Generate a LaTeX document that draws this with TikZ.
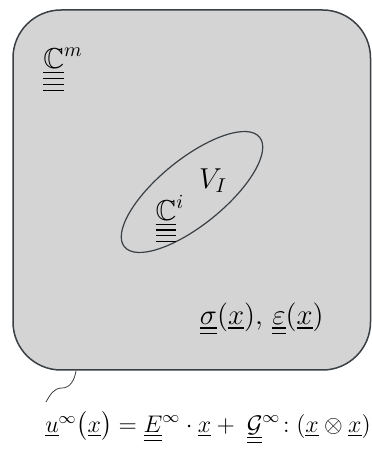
\documentclass[tikz,border=0pt]{standalone}
\usepackage{amsmath,amssymb}
\usepackage{tikz}
\usetikzlibrary{shapes.geometric, positioning, calc}
\usepackage{xcolor}
\definecolor{domfill}{HTML}{D4D4D4}
\definecolor{domstr}{HTML}{3A3F44}
\newcommand{\tenu}[1]{\underline{\underline{#1}}}
\newcommand{\quadu}[1]{\underline{\underline{\underline{\underline{#1}}}}}
\tikzset{
  dombox/.style ={draw=domstr, fill=domfill, line width=0.75pt, rounded corners=24pt},
  subdom/.style ={ellipse, draw=domstr, line width=0.6pt, minimum width=87pt, minimum height=33pt, inner sep=0pt},
  lbl/.style    ={inner sep=1pt, font=\Large},
  squig/.style  ={draw=domstr, line width=0.4pt},
}
\begin{document}
\begin{tikzpicture}[x=0.5pt, y=0.5pt]
  \useasboundingbox (0,0) rectangle (371,455);
  \draw[dombox] (13,85) rectangle (370.5,445);
  \node[subdom, rotate=39] (vi) at (192,263) {};
  \node[lbl] (cm) at (63,385) {$\quadu{\mathbb{C}}^{m}$};
  \node[lbl] (vlab) at (213,274) {$V_{I}$};
  \node[lbl] (ci) at (170,236) {$\quadu{\mathbb{C}}^{i}$};
  \node[lbl, anchor=east] (sig) at (326,136) {$\tenu{\sigma}(\underline{x}),\, \tenu{\varepsilon}(\underline{x})$};
  \node[lbl, font=\large] (uinf) at (208,27) {$\underline{u}^{\infty}\big(\underline{x}\big) = \tenu{E}^{\infty}\cdot\underline{x} + \;\tenu{\mathcal{G}}^{\infty}\!:(\underline{x}\otimes\underline{x})$};
  \coordinate (tail) at (76,84);
  \coordinate (kink) at (62,67);
  \coordinate (head) at (46,53);
  \draw[squig] (tail) to[out=-100,in=0] (kink) to[out=180,in=60] (head);
\end{tikzpicture}
\end{document}
